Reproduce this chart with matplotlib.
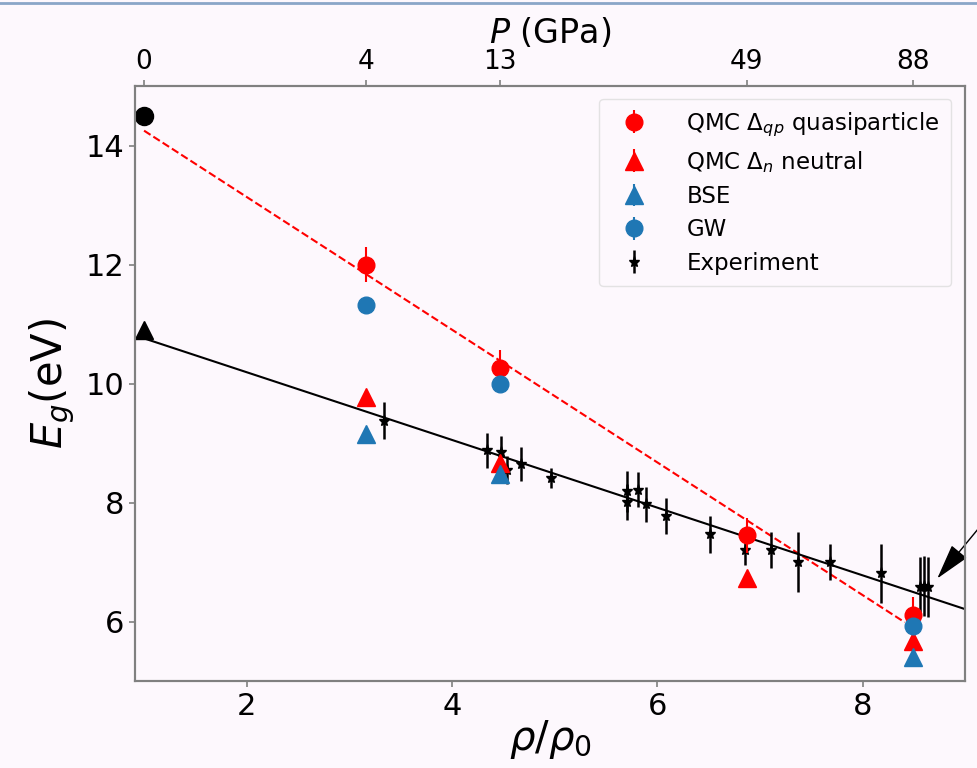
import numpy as np
import matplotlib
matplotlib.use("Agg")
import matplotlib.pyplot as plt
from matplotlib.lines import Line2D

# ---- data ----
rho_amb = [1.0]
gap_amb_qp = [14.5]
gap_amb_n = [10.9]

rho_qmc = [3.16, 4.47, 6.87, 8.49]
qmc_qp = [12.0, 10.27, 7.45, 6.12]
qmc_qp_err = [0.3, 0.3, 0.3, 0.3]
qmc_n = [9.77, 8.66, 6.73, 5.67]
qmc_n_err = [0.05, 0.05, 0.05, 0.05]

rho_gw = [3.16, 4.47, 8.49]
bse = [9.15, 8.48, 5.40]
bse_err = [0.05, 0.05, 0.1]
gw = [11.32, 9.99, 5.92]
gw_err = [0.05, 0.1, 0.05]

rho_exp = [3.34, 4.34, 4.48, 4.54, 4.67, 4.96, 5.70, 5.70, 5.81, 5.89,
           6.08, 6.51, 6.85, 7.11, 7.37, 7.68, 8.18, 8.56, 8.60, 8.64]
gap_exp = [9.38, 8.88, 8.85, 8.55, 8.65, 8.41, 8.19, 8.01, 8.22, 7.97,
           7.77, 7.47, 7.21, 7.20, 7.00, 7.00, 6.81, 6.58, 6.60, 6.58]
gap_exp_err = [0.31, 0.29, 0.27, 0.23, 0.29, 0.17, 0.35, 0.3, 0.3, 0.3,
               0.3, 0.31, 0.25, 0.3, 0.5, 0.3, 0.5, 0.5, 0.5, 0.5]

# linear fits (endpoints)
fit_qp_x = [1.0, 8.41]
fit_qp_y = [14.25, 5.99]
fit_exp_x = [1.0, 9.0]
fit_exp_y = [10.76, 6.21]

p_tick_rho = [1.0, 3.16, 4.47, 6.87, 8.49]
p_tick_labels = ['0', '4', '13', '49', '88']

# ---- plot ----
bg = '#fdf8fd'
fig = plt.figure(figsize=(9.77, 7.68), dpi=100, facecolor=bg)
ax = fig.add_axes([0.138, 0.113, 0.850, 0.775], facecolor=bg)

ax.plot(fit_qp_x, fit_qp_y, '--', color='red', lw=1.5, zorder=2)
ax.plot(fit_exp_x, fit_exp_y, '-', color='black', lw=1.5, zorder=2)

ax.plot(rho_amb, gap_amb_qp, 'o', color='black', ms=13, zorder=4)
ax.plot(rho_amb, gap_amb_n, '^', color='black', ms=13, zorder=4)

h1 = ax.errorbar(rho_qmc, qmc_qp, yerr=qmc_qp_err, fmt='o', color='red', ms=12,
                 elinewidth=1.5, zorder=4, label=r'QMC $\Delta_{qp}$ quasiparticle')
h2 = ax.errorbar(rho_qmc, qmc_n, yerr=qmc_n_err, fmt='^', color='red', ms=13,
                 elinewidth=1.5, zorder=4, label=r'QMC $\Delta_{n}$ neutral')
h3 = ax.errorbar(rho_gw, bse, yerr=bse_err, fmt='^', color='#1f77b4', ms=13,
                 elinewidth=1.5, zorder=4, label='BSE')
h4 = ax.errorbar(rho_gw, gw, yerr=gw_err, fmt='o', color='#1f77b4', ms=12,
                 elinewidth=1.5, zorder=4, label='GW')
h5 = ax.errorbar(rho_exp, gap_exp, yerr=gap_exp_err, fmt='*', color='black', ms=8,
                 elinewidth=1.8, zorder=3, label='Experiment')

ax.set_xlim(0.91, 9.0)
ax.set_ylim(5.0, 15.0)
ax.set_xticks([2, 4, 6, 8])
ax.set_yticks([6, 8, 10, 12, 14])
ax.tick_params(labelsize=22, color='#808080', length=4, width=1.2)
ax.set_xlabel(r'$\rho/\rho_0$', fontsize=29, labelpad=-2)
ax.set_ylabel(r'$E_g$(eV)', fontsize=30, labelpad=6)
for s in ax.spines.values():
    s.set_color('#808080')
    s.set_linewidth(1.5)

ax2 = ax.twiny()
ax2.set_xlim(ax.get_xlim())
ax2.set_xticks(p_tick_rho)
ax2.set_xticklabels(p_tick_labels)
ax2.tick_params(labelsize=19, color='#808080', length=4, width=1.2, pad=4)
ax2.set_xlabel(r'$P$ (GPa)', fontsize=24, labelpad=4)
for s in ax2.spines.values():
    s.set_color('#808080')
    s.set_linewidth(1.5)

leg = ax.legend(handles=[h1, h2, h3, h4, h5], loc='upper right', fontsize=16.5,
                frameon=True, borderpad=0.5, labelspacing=0.45, handlelength=2.0,
                handletextpad=1.3, bbox_to_anchor=(0.997, 0.998))
leg.get_frame().set_facecolor(bg)
leg.get_frame().set_edgecolor('#dddddd')

ax.annotate('', xy=(8.71, 6.69), xytext=(9.25, 7.82), xycoords='data',
            annotation_clip=False,
            arrowprops=dict(arrowstyle='-|>,head_length=0.9,head_width=0.25',
                            color='black', lw=1.0, mutation_scale=25))

fig.add_artist(Line2D([0, 1], [0.996, 0.996], transform=fig.transFigure,
                      color='#8aa6c8', lw=2))

fig.savefig('out.png', dpi=100, facecolor=bg)
